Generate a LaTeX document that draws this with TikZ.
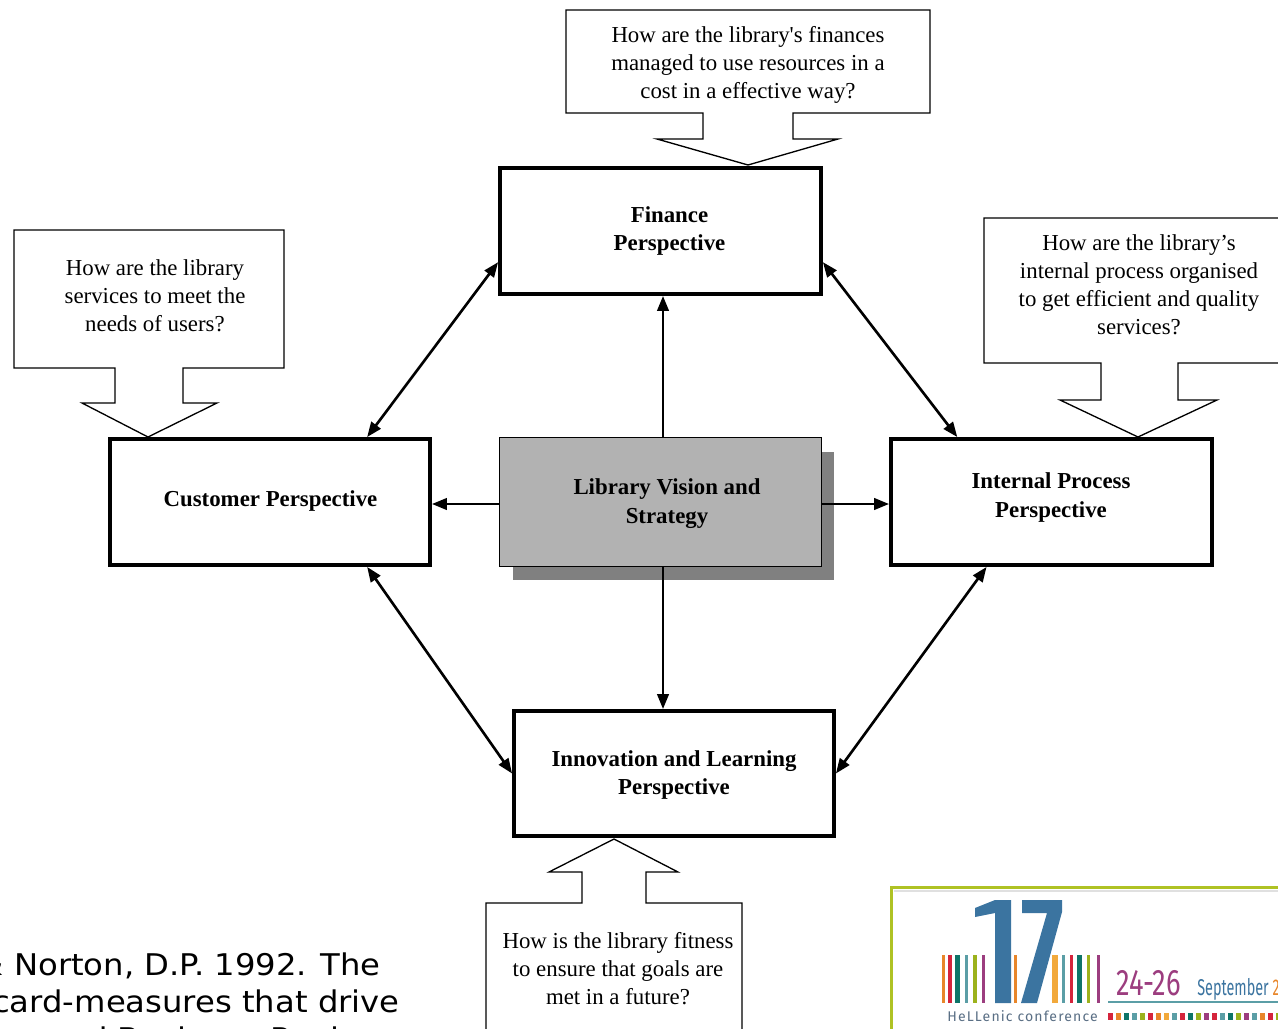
\documentclass[tikz,border=0pt]{standalone}
\usepackage{fontspec}
\setmainfont{Liberation Serif}
\newfontfamily\citefont{DejaVu Sans}
\newfontfamily\logofont{Fira Sans}
\usetikzlibrary{arrows.meta,calc,shadows}
\definecolor{boxgray}{HTML}{B2B2B2}
\definecolor{shadowgray}{HTML}{808080}
\definecolor{lgframe}{HTML}{AFC224}
\definecolor{lgorange}{HTML}{E8862A}
\definecolor{lgred}{HTML}{D5243C}
\definecolor{lgteal}{HTML}{0E7468}
\definecolor{lgltteal}{HTML}{5B9EA6}
\definecolor{lggreen}{HTML}{9CB21C}
\definecolor{lgpurple}{HTML}{9C3D7F}
\definecolor{lgblue}{HTML}{3B74A0}
\definecolor{lgyellow}{HTML}{F2A93B}
\definecolor{lgtext}{HTML}{5A6F85}
\newcommand{\straightquote}{{\addfontfeature{Ligatures=TeXOff}'}}
\begin{document}
\begin{tikzpicture}[x=0.02cm,y=-0.02cm,
  persp/.style={draw, line width=2.5pt, fill=white, inner sep=0},
  lbl/.style={font=\bfseries\fontsize{13}{16.4}\selectfont, align=center, inner sep=0},
  qtext/.style={font=\fontsize{13}{15.9}\selectfont, align=center, inner sep=0},
  callout/.style={draw, line width=0.75pt, fill=white, line join=miter},
  arr/.style={line width=1.5pt, -{Triangle[length=8.5pt,width=6.5pt]}},
  darr/.style={line width=1.5pt, {Triangle[length=8.5pt,width=6.5pt]}-{Triangle[length=8.5pt,width=6.5pt]}},
  cite/.style={font=\citefont\fontsize{17}{21}\selectfont, inner sep=0}]
\clip (0,0) rectangle (1278,1028);
\fill[white] (0,0) rectangle (1278,1028);

% callouts
\draw[callout] (566,10) -- (930,10) -- (930,113) -- (793,113) -- (793,139) -- (838,139) -- (748,165) -- (657,139) -- (703,139) -- (703,113) -- (566,113) -- cycle;
\draw[callout] (14,230) -- (284,230) -- (284,368) -- (183,368) -- (183,403) -- (217,403) -- (148,437) -- (82,403) -- (115,403) -- (115,368) -- (14,368) -- cycle;
\draw[callout] (984,218) -- (1295,218) -- (1295,363) -- (1178,363) -- (1178,400) -- (1217,400) -- (1138,437) -- (1060,400) -- (1101,400) -- (1101,363) -- (984,363) -- cycle;
\draw[callout] (614,839) -- (678,872) -- (646,872) -- (646,903) -- (742,903) -- (742,1040) -- (486,1040) -- (486,903) -- (582,903) -- (582,872) -- (549,872) -- cycle;

\node[qtext] (q-fin) at (748,65) {How are the library\straightquote s finances\\managed to use resources in a\\cost in a effective way?};
\node[qtext] (q-cus) at (155,296) {How are the library\\services to meet the\\needs of users?};
\node[qtext] (q-int) at (1139,285) {How are the library’s\\internal process organised\\to get efficient and quality\\services?};
\node[qtext] (q-inn) at (618,969) {How is the library fitness\\to ensure that goals are\\met in a future?};

% boxes
\node[persp, minimum width=6.41cm, minimum height=2.51cm] (fin) at (660.5,231) {};
\node[persp, minimum width=6.39cm, minimum height=2.51cm] (cus) at (270,502) {};
\node[persp, minimum width=6.41cm, minimum height=2.51cm] (int) at (1051.5,502) {};
\node[persp, minimum width=6.39cm, minimum height=2.49cm] (inn) at (674,773.5) {};
\node[draw, line width=1pt, fill=boxgray, inner sep=0, minimum width=6.44cm, minimum height=2.58cm,
  drop shadow={shadow xshift=0.26cm, shadow yshift=-0.28cm, fill=shadowgray, opacity=1}] (lib) at (660.5,502) {};

\node[lbl] (fin-t) at (669.5,231) {Finance\\Perspective};
\node[lbl] (cus-t) at (270.5,501) {Customer Perspective};
\node[lbl] (int-t) at (1051,497.5) {Internal Process\\Perspective};
\node[lbl] (inn-t) at (674,775) {Innovation and Learning\\Perspective};
\node[lbl] (lib-t) at (667,503.5) {Library Vision and\\Strategy};

% arrows
\draw[arr] ([xshift=0.05cm]lib.north) -- ([xshift=0.05cm]fin.south);
\draw[arr] ([xshift=0.05cm]lib.south) -- ([xshift=0.05cm]inn.north -| lib.south);
\draw[arr] ([yshift=-0.04cm]lib.west) -- ([yshift=-0.04cm]cus.east);
\draw[arr] ([yshift=-0.04cm]lib.east) -- ([yshift=-0.04cm]int.west);

\draw[darr] ($(fin.south west)!0.26!(fin.north west)$) -- ($(cus.north west)!0.8!(cus.north east)$);
\draw[darr] ($(fin.south east)!0.26!(fin.north east)$) -- ($(int.north west)!0.21!(int.north east)$);
\draw[darr] ($(cus.south west)!0.8!(cus.south east)$) -- (inn.west);
\draw[darr] ($(int.south west)!0.3!(int.south east)$) -- (inn.east);

% citation
\node[cite, anchor=base east] (c1) at (381,975) {\scalebox{1.08}[1]{Kaplan, R.S. \& Norton, D.P. 1992. The}};
\node[cite, anchor=base east] (c2) at (400,1012) {\scalebox{1.08}[1]{balanced scorecard-measures that drive}};
\node[cite, anchor=base west] (c3) at ($(c2.base west)+(0,37)$) {\scalebox{1.08}[1]{performance. Harvard Business Review}};

% logo
\fill[white] (891,887) rectangle (1295,1040);
\draw[black!12, line width=1pt] (894,891) -- (1295,891);
\draw[lgframe, line width=1.7pt] (891,1040) -- (891,887) -- (1295,887);
\foreach \a/\b/\c in {942/945/lgorange, 948/952/lgred, 955/960/lgteal, 965/968/lgltteal, 973/977/lggreen, 982/985/lgpurple,
  1014/1017/lgorange, 1052/1058/lgyellow, 1062/1065/lgltteal, 1070/1073/lgred, 1077/1082/lgteal, 1087/1090/lggreen, 1097/1100/lgpurple}
  \fill[\c] (\a,955) rectangle (\b,1003);
\fill[lgblue] (975,908) -- (995,900) -- (1011,900) -- (1011,1003) -- (995,1003) -- (995,913) -- (975,917) -- cycle;
\fill[lgblue] (1022,900) -- (1062,900) -- (1062,912) -- (1037,1003) -- (1021,1003) -- (1047,913) -- (1022,913) -- cycle;
\node[anchor=base west, inner sep=0, text=lgpurple, font=\logofont\fontsize{21}{21}\selectfont] (l-date) at (1116,995) {\scalebox{0.74}[1]{24-26}};
\node[anchor=base west, inner sep=0, text=lgblue, font=\logofont\fontsize{13}{13}\selectfont] (l-month) at (1197,995) {\scalebox{0.63}[1]{September \textcolor{lgorange}{2}}};
\draw[lgltteal, line width=0.9pt] (1108,1002) -- (1295,1002);
\node[anchor=base west, inner sep=0, text=lgtext, font=\logofont\fontsize{8}{8}\selectfont] (l-name) at (947,1021) {\addfontfeature{LetterSpace=8}HeLLenic conference};
\foreach \i/\c in {0/lgred,1/lgorange,2/lgteal,3/lgltteal,4/lggreen,5/lgred,6/lgorange,7/lgyellow,8/lgltteal,9/lgred,10/lgteal,11/lggreen,12/lgpurple,13/lgred,14/lgltteal,15/lgteal,16/lggreen,17/lgpurple,18/lgltteal,19/lgorange,20/lgred,21/lggreen}
  \fill[\c] ({1108+\i*8},1013) rectangle ({1113+\i*8},1020);
\end{tikzpicture}
\end{document}
